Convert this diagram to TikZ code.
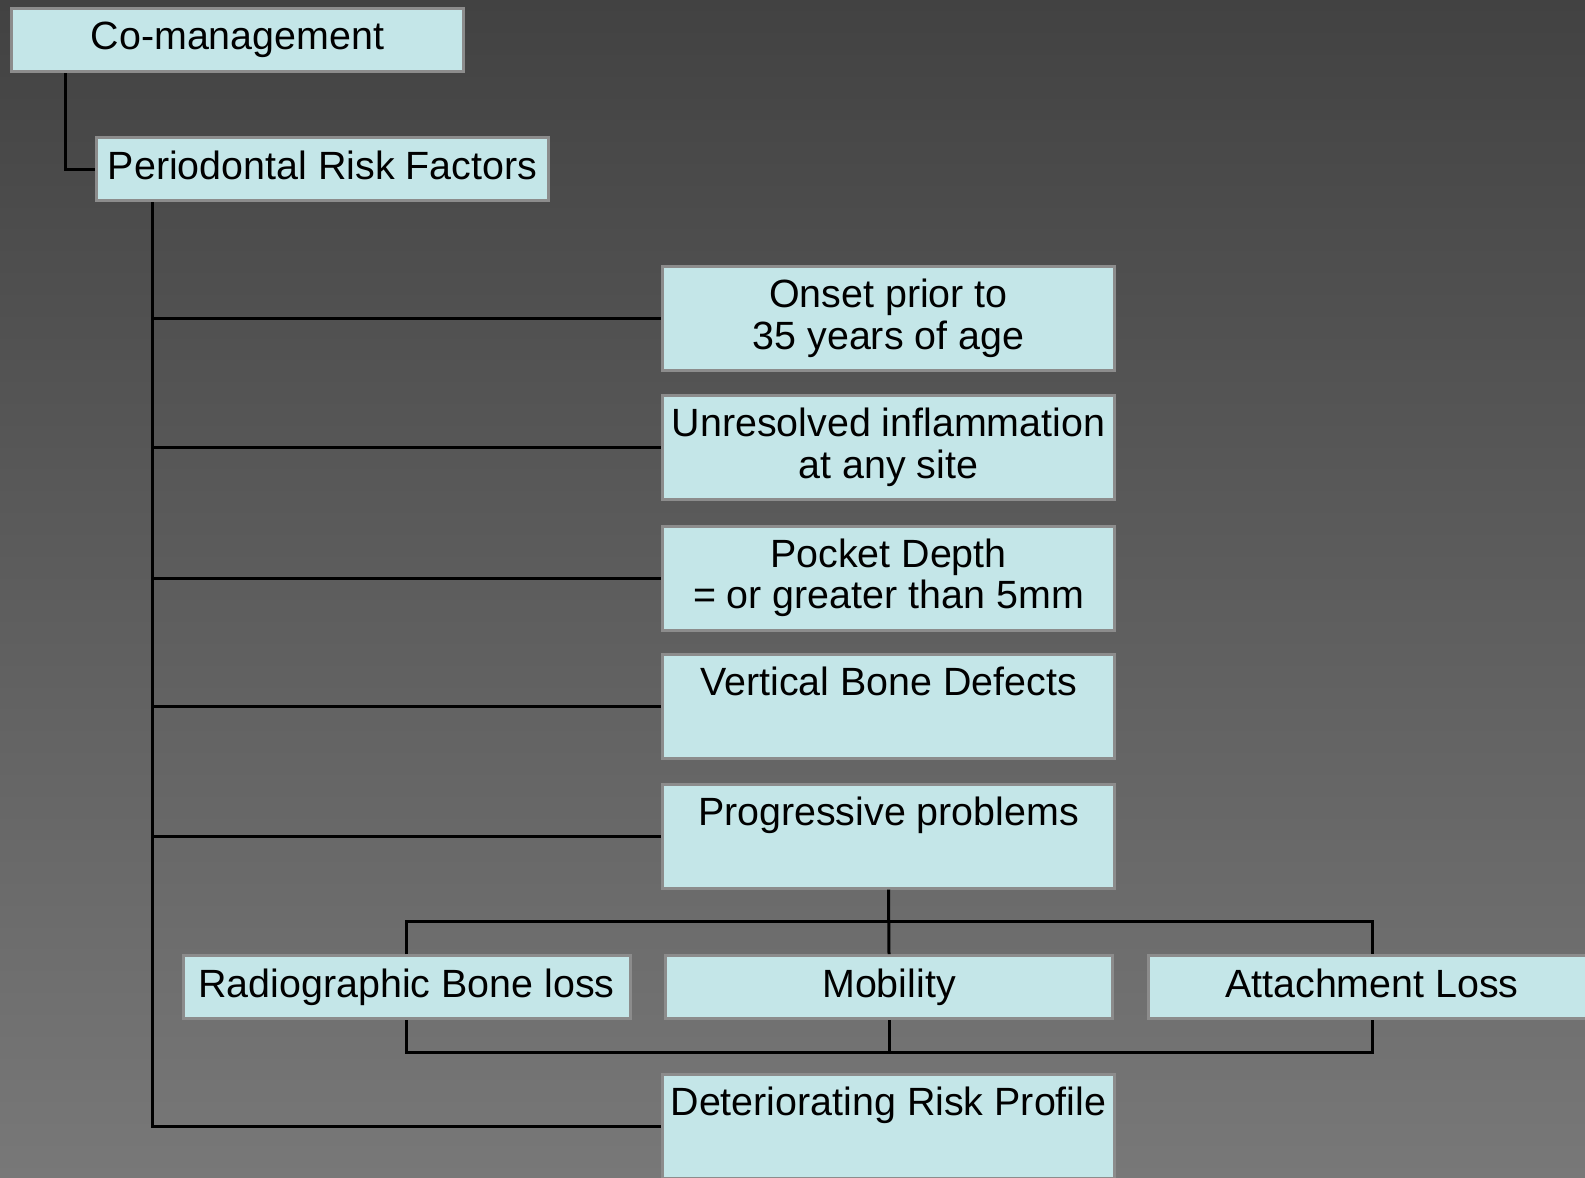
\documentclass[tikz,border=0pt]{standalone}
\usepackage{fontspec}
\setmainfont{Liberation Sans}
\usetikzlibrary{calc}
\definecolor{boxfill}{HTML}{C4E6E8}
\definecolor{boxline}{HTML}{8C8C8C}
\definecolor{bgtop}{HTML}{424242}
\definecolor{bgbottom}{HTML}{787878}
\tikzset{
    riskbox/.style={draw=boxline,line width=3pt,fill=boxfill,inner sep=0pt,
        align=center,font=\fontsize{39.4}{41.5}\selectfont,
        execute at begin node=\vphantom{Ay}},
    wide/.style={riskbox,minimum width=452pt,minimum height=63pt},
    tall/.style={riskbox,minimum width=452pt,minimum height=104pt},
    row/.style={riskbox,minimum width=447pt,minimum height=63pt},
    link/.style={line width=3pt,black}
}
\begin{document}
\begin{tikzpicture}[x=1pt,y=-1pt]
        \useasboundingbox (0,0) rectangle (1585,1178);
        \shade[top color=bgtop,bottom color=bgbottom] (0,0) rectangle (1585,1178);
        \node[wide] (com) at (237.5,40) {Co-management};
        \node[wide] (prf) at (322.5,169) {Periodontal Risk Factors};
        \node[tall] (ons) at (888.5,318.5) {Onset prior to\\35 years of age};
        \node[tall] (unr) at (888.5,447.5) {Unresolved inflammation\\at any site};
        \node[tall] (poc) at (888.5,578) {Pocket Depth\\= or greater than 5mm};
        \node[tall] (ver) at (888.5,706.5) {Vertical Bone Defects\\\mbox{}};
        \node[tall] (pro) at (888.5,836) {Progressive problems\\\mbox{}};
        \node[row] (rad) at (406.5,987) {Radiographic Bone loss};
        \node[row] (mob) at (889,987) {Mobility};
        \node[row] (att) at (1372,987) {Attachment Loss};
        \node[tall] (det) at (888.5,1126) {Deteriorating Risk Profile\\\mbox{}};
        \coordinate (trunk) at ([xshift=57pt]prf.south west);
        \coordinate (top) at ($(pro.south)!0.5!(mob.north)$);
        \coordinate (bot) at ([yshift=-32pt]mob.south);
        \draw[link] ([xshift=55pt]com.south west) |- (prf.west);
        \draw[link] (trunk) |- (det.west);
        \foreach \n in {ons,unr,poc,ver,pro}
            \draw[link] (trunk |- \n.west) -- (\n.west);
        \draw[link] (pro.south) -- (mob.north);
        \draw[link] (rad.north) |- (top) -| (att.north);
        \draw[link] (rad.south) |- (bot) -| (att.south);
        \draw[link] (mob.south) -- (bot);
    \end{tikzpicture}
\end{document}
